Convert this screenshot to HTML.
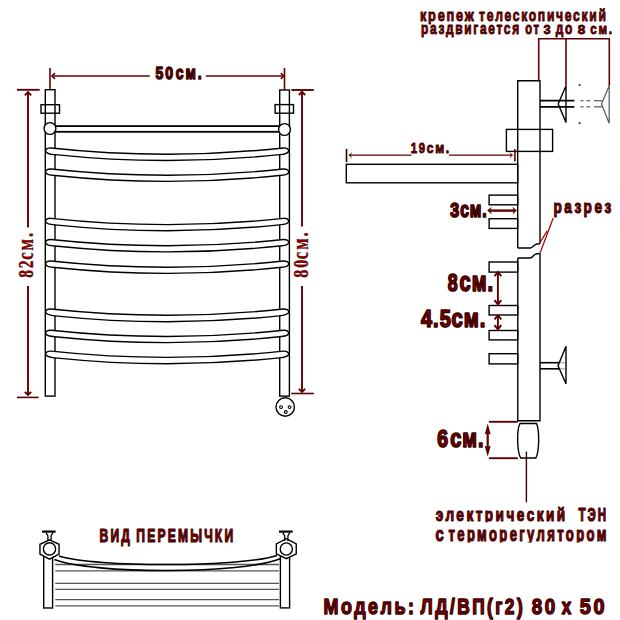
<!DOCTYPE html>
<html><head><meta charset="utf-8"><style>
html,body{margin:0;padding:0;background:#fff;width:620px;height:620px;overflow:hidden}
svg{display:block}
</style></head><body>
<svg width="620" height="620" viewBox="0 0 620 620">
<rect width="620" height="620" fill="#fff"/>
<g fill="none" stroke="#000" stroke-width="1.4">
<rect x="45.3" y="89.7" width="9.7" height="306.4"/>
<rect x="279.7" y="90" width="9.7" height="306.1"/>
<rect x="41" y="104.7" width="18.5" height="8.5"/>
<rect x="275.1" y="104.6" width="18.4" height="8.6"/>
</g>
<rect x="50" y="126.1" width="234.5" height="5.7" fill="#fff" stroke="#000" stroke-width="1.8"/>
<circle cx="50" cy="128.5" r="5.9" fill="#fff" stroke="#000" stroke-width="1.4"/>
<circle cx="284.5" cy="129.5" r="5.9" fill="#fff" stroke="#000" stroke-width="1.4"/>
<path d="M51.00,147.94 Q167.15,160.46 283.30,147.94 C286.30,147.74 288.70,148.84 288.70,150.84 C288.60,152.54 284.80,154.36 279.30,154.66 Q167.15,166.34 55.00,154.66 C49.50,154.36 45.70,152.54 45.60,150.84 C45.60,148.84 48.00,147.74 51.00,147.94 Z" fill="#fff" stroke="#000" stroke-width="1.4"/>
<path d="M51.00,169.04 Q167.15,181.56 283.30,169.04 C286.30,168.84 288.70,169.94 288.70,171.94 C288.60,173.64 284.80,175.26 279.30,175.56 Q167.15,187.24 55.00,175.56 C49.50,175.26 45.70,173.64 45.60,171.94 C45.60,169.94 48.00,168.84 51.00,169.04 Z" fill="#fff" stroke="#000" stroke-width="1.4"/>
<path d="M51.00,218.34 Q167.15,230.86 283.30,218.34 C286.30,218.14 288.70,219.24 288.70,221.24 C288.60,222.94 284.80,224.56 279.30,224.86 Q167.15,236.54 55.00,224.86 C49.50,224.56 45.70,222.94 45.60,221.24 C45.60,219.24 48.00,218.14 51.00,218.34 Z" fill="#fff" stroke="#000" stroke-width="1.4"/>
<path d="M51.00,239.54 Q167.15,252.06 283.30,239.54 C286.30,239.34 288.70,240.44 288.70,242.44 C288.60,244.14 284.80,245.76 279.30,246.06 Q167.15,257.74 55.00,246.06 C49.50,245.76 45.70,244.14 45.60,242.44 C45.60,240.44 48.00,239.34 51.00,239.54 Z" fill="#fff" stroke="#000" stroke-width="1.4"/>
<path d="M51.00,261.04 Q167.15,273.56 283.30,261.04 C286.30,260.84 288.70,261.94 288.70,263.94 C288.60,265.64 284.80,267.26 279.30,267.56 Q167.15,279.24 55.00,267.56 C49.50,267.26 45.70,265.64 45.60,263.94 C45.60,261.94 48.00,260.84 51.00,261.04 Z" fill="#fff" stroke="#000" stroke-width="1.4"/>
<path d="M51.00,309.04 Q167.15,321.56 283.30,309.04 C286.30,308.84 288.70,309.94 288.70,311.94 C288.60,313.64 284.80,315.56 279.30,315.86 Q167.15,327.54 55.00,315.86 C49.50,315.56 45.70,313.64 45.60,311.94 C45.60,309.94 48.00,308.84 51.00,309.04 Z" fill="#fff" stroke="#000" stroke-width="1.4"/>
<path d="M51.00,330.24 Q167.15,342.76 283.30,330.24 C286.30,330.04 288.70,331.14 288.70,333.14 C288.60,334.84 284.80,336.46 279.30,336.76 Q167.15,348.44 55.00,336.76 C49.50,336.46 45.70,334.84 45.60,333.14 C45.60,331.14 48.00,330.04 51.00,330.24 Z" fill="#fff" stroke="#000" stroke-width="1.4"/>
<path d="M51.00,351.14 Q167.15,363.66 283.30,351.14 C286.30,350.94 288.70,352.04 288.70,354.04 C288.60,355.74 284.80,357.56 279.30,357.86 Q167.15,369.54 55.00,357.86 C49.50,357.56 45.70,355.74 45.60,354.04 C45.60,352.04 48.00,350.94 51.00,351.14 Z" fill="#fff" stroke="#000" stroke-width="1.4"/>
<circle cx="285.2" cy="407" r="9.2" fill="#fff" stroke="#000" stroke-width="1.4"/>
<circle cx="281" cy="407.1" r="1.4" fill="none" stroke="#000" stroke-width="1.1"/>
<circle cx="289.6" cy="407.1" r="1.4" fill="none" stroke="#000" stroke-width="1.1"/>
<circle cx="285.8" cy="412" r="1.4" fill="none" stroke="#000" stroke-width="1.1"/>
<g stroke="#600000" stroke-width="1.6" fill="none">
<line x1="50" y1="68" x2="50" y2="89.5"/>
<line x1="284.5" y1="68" x2="284.5" y2="90"/>
<line x1="52" y1="76" x2="149.7" y2="76" stroke-width="1.3"/>
<line x1="205.8" y1="76" x2="283" y2="76" stroke-width="1.3"/>
<line x1="17" y1="89.8" x2="39.7" y2="89.8" stroke-width="1.9"/>
<line x1="17" y1="397.4" x2="38.6" y2="397.4"/>
<line x1="28" y1="92" x2="28" y2="227.4" stroke-width="1.9"/>
<line x1="28" y1="286" x2="28" y2="395" stroke-width="1.9"/>
<line x1="291.4" y1="90" x2="313.8" y2="90" stroke-width="1.9"/>
<line x1="291.3" y1="393.5" x2="313.9" y2="393.5"/>
<line x1="302" y1="91.6" x2="302" y2="226.5" stroke-width="1.9"/>
<line x1="302" y1="286" x2="302" y2="391.6" stroke-width="1.9"/>
</g>
<polyline points="55.0,73.2 52,76 55.0,78.8" fill="none" stroke="#600000" stroke-width="1.6" stroke-linejoin="miter"/>
<polyline points="280.8,73.2 283.8,76 280.8,78.8" fill="none" stroke="#600000" stroke-width="1.6" stroke-linejoin="miter"/>
<polyline points="24.8,95.4 28,92.2 31.2,95.4" fill="none" stroke="#600000" stroke-width="1.9" stroke-linejoin="miter"/>
<polyline points="24.8,391.8 28,395 31.2,391.8" fill="none" stroke="#600000" stroke-width="1.9" stroke-linejoin="miter"/>
<polyline points="298.8,95.0 302,91.8 305.2,95.0" fill="none" stroke="#600000" stroke-width="1.9" stroke-linejoin="miter"/>
<polyline points="298.8,388.8 302,392 305.2,388.8" fill="none" stroke="#600000" stroke-width="1.9" stroke-linejoin="miter"/>
<g fill="none" stroke="#000" stroke-width="1.4">
<rect x="346.3" y="164.3" width="171.4" height="18.5" fill="#fff"/>
<rect x="489.1" y="195.1" width="28.6" height="9.7" fill="#fff"/>
<rect x="489.1" y="218.7" width="28.6" height="9.7" fill="#fff"/>
<rect x="489.1" y="262" width="28.6" height="10.1" fill="#fff"/>
<rect x="489.1" y="305.5" width="28.6" height="9.5" fill="#fff"/>
<rect x="489.1" y="330.5" width="28.6" height="9.4" fill="#fff"/>
<rect x="489.1" y="353.7" width="28.6" height="10.2" fill="#fff"/>
<path d="M517.7,248 L517.7,80.8 L540,80.8 L540,243.8"/>
<path d="M517.7,248 L530,248 C533,248 533.5,244.2 537,244 L540,243.8"/>
<path d="M540,253.6 L540,420.8 L517.8,420.8 L517.8,258"/>
<path d="M517.8,258 L530,258 C533,258 533.5,254 537,253.8 L540,253.6"/>
<rect x="506.4" y="129.4" width="46.2" height="22"/>
<line x1="540" y1="100.7" x2="574.4" y2="100.7" stroke-width="1.8"/>
<line x1="540" y1="106.8" x2="574.4" y2="106.8" stroke-width="1.8"/>
<polyline points="566,85.8 558.2,103.9 566,122.6 566,85.8"/>
<line x1="540" y1="362.7" x2="559" y2="362.7" stroke-width="1.6"/>
<line x1="540" y1="368.8" x2="559" y2="368.8" stroke-width="1.6"/>
<line x1="559" y1="362.7" x2="565.5" y2="362.7" stroke="#999" stroke-width="1"/>
<line x1="559" y1="368.8" x2="565.5" y2="368.8" stroke="#999" stroke-width="1"/>
<polyline points="566,346.3 558,365.7 566,383.7 566,346.3"/>
<path d="M520,423.5 L536.5,423.5 C539.5,430 539.5,451 535.9,458 L520.6,458 C517,451 516.5,430 520,423.5 Z"/>
</g>
<g stroke="#555" stroke-width="1.2" fill="none">
<polyline points="609.2,85.8 601.5,103.9 609.2,123.2 609.2,85.8"/>
<line x1="580.5" y1="100.7" x2="583.5" y2="100.7"/><line x1="586.5" y1="100.7" x2="590" y2="100.7"/><line x1="594" y1="100.7" x2="602" y2="100.7"/>
<line x1="580.5" y1="106.8" x2="583.5" y2="106.8"/><line x1="586.5" y1="106.8" x2="590" y2="106.8"/><line x1="594" y1="106.8" x2="602" y2="106.8"/>
</g>
<rect x="578.8" y="84.2" width="1.6" height="1.6" fill="#000"/><rect x="578.8" y="122.4" width="1.6" height="1.6" fill="#000"/>
<g stroke="#600000" stroke-width="1.6" fill="none">
<polyline points="538.7,80.7 538.7,38.7 609.3,38.7 609.3,85.8"/>
<line x1="566" y1="38.7" x2="566" y2="85.8"/>
<line x1="346.5" y1="148.9" x2="346.5" y2="162.2" stroke="#200"/>
<line x1="514.9" y1="149" x2="514.9" y2="161.5"/>
<line x1="349" y1="155.2" x2="411.5" y2="155.2" stroke-width="1.3"/>
<line x1="449" y1="155.2" x2="512.6" y2="155.2" stroke-width="1.3"/>
<line x1="489" y1="210.6" x2="515" y2="210.6" stroke-width="2.4"/>
<line x1="497.9" y1="273" x2="497.9" y2="303" stroke-width="1.9"/>
<line x1="497.9" y1="316" x2="497.9" y2="328" stroke-width="1.9"/>
<line x1="488.9" y1="421.8" x2="517.8" y2="421.8" stroke-width="1.9"/>
<line x1="488.9" y1="458.2" x2="517.8" y2="458.2" stroke-width="1.9"/>
<line x1="487.7" y1="430" x2="487.7" y2="450" stroke-width="2.2"/>
<line x1="553.2" y1="218" x2="539.9" y2="253.5" stroke="#a00000" stroke-width="1.2"/>
<line x1="547.2" y1="230.9" x2="539.9" y2="242.8" stroke="#a00000" stroke-width="1.2"/>
<line x1="526.4" y1="451.5" x2="526.4" y2="502.3" stroke="#3a0000" stroke-width="1.4"/>
</g>
<polygon points="349,155.2 352,152.0 350.8,155.2 352,158.39999999999998" fill="#600000"/>
<polygon points="512.6,155.2 509.6,152.0 510.8,155.2 509.6,158.39999999999998" fill="#600000"/>
<polygon points="487.2,210.6 491.7,206.79999999999998 490.2,210.6 491.7,214.4" fill="#600000"/>
<polygon points="516.9,210.6 512.4,206.79999999999998 513.9,210.6 512.4,214.4" fill="#600000"/>
<polyline points="494.5,276.2 497.9,272 501.29999999999995,276.2" fill="none" stroke="#600000" stroke-width="1.9" stroke-linejoin="miter"/>
<polyline points="494.5,300.2 497.9,304.4 501.29999999999995,300.2" fill="none" stroke="#600000" stroke-width="1.9" stroke-linejoin="miter"/>
<polyline points="494.5,319.4 497.9,315.2 501.29999999999995,319.4" fill="none" stroke="#600000" stroke-width="1.9" stroke-linejoin="miter"/>
<polyline points="494.5,325.2 497.9,329.4 501.29999999999995,325.2" fill="none" stroke="#600000" stroke-width="1.9" stroke-linejoin="miter"/>
<polygon points="487.7,423.4 484.7,434.59999999999997 487.7,433.59999999999997 490.7,434.59999999999997" fill="#600000"/>
<polygon points="487.7,456.7 484.7,445.7 487.7,446.7 490.7,445.7" fill="#600000"/>
<g stroke="#555" stroke-width="1.3">
<line x1="55.3" y1="564.5" x2="279" y2="564.5"/>
<line x1="55.3" y1="570.9" x2="279" y2="570.9"/>
<line x1="55.3" y1="583.4" x2="279" y2="583.4"/>
<line x1="55.3" y1="589.4" x2="279" y2="589.4"/>
<line x1="55.3" y1="599.6" x2="279" y2="599.6"/>
<line x1="55.3" y1="605.8" x2="279" y2="605.8"/>
</g>
<g fill="#fff" stroke="#000" stroke-width="1.4">
<rect x="43.7" y="556" width="8.9" height="52"/>
<rect x="280.4" y="556" width="9.2" height="51.9"/>
<path d="M58.9,556 C95,567.5 240,567.5 277,555.4" fill="none" stroke-width="1.6" />
<path d="M54.4,559.6 C92,574.3 243,574.3 281,558.6" fill="none" stroke-width="1.6" />
<polygon points="49.5,539.8 59.05,544.3 59.05,554.0 49.5,559.2 39.95,554.0 39.95,544.3"/>
<circle cx="49.5" cy="548.9" r="6.1"/>
<path d="M42.1,531.6 L55.6,531.6" stroke-width="2.2"/>
<path d="M46.0,532.5 L47.9,536 L47.9,541 M53.0,532.5 L51.1,536 L51.1,541" fill="none" stroke-width="1.3"/>
<polygon points="286.3,538.7 296.25,543.9 296.25,553.8 286.3,558.6 276.35,553.8 276.35,543.9"/>
<circle cx="286.3" cy="549" r="6.1"/>
<path d="M279,531.6 L292.7,531.6" stroke-width="2.2"/>
<path d="M282.8,532.5 L284.7,536 L284.7,541 M289.8,532.5 L287.90000000000003,536 L287.90000000000003,541" fill="none" stroke-width="1.3"/>
</g>
<text transform="translate(155.43,78.80) scale(0.8093,1)" font-size="17.36" letter-spacing="2.430" font-family="Liberation Sans, sans-serif" font-weight="bold" fill="#860000" stroke="#3a0000" stroke-width="1.3" vector-effect="non-scaling-stroke" stroke-linejoin="round">50</text>
<text transform="translate(175.69,78.80) scale(0.7834,1)" font-size="17.87" letter-spacing="2.502" font-family="Liberation Sans, sans-serif" font-weight="bold" fill="#860000" stroke="#3a0000" stroke-width="1.3" vector-effect="non-scaling-stroke" stroke-linejoin="round">см.</text>
<text transform="translate(410.72,153.20) scale(0.7664,1)" font-size="14.86" letter-spacing="2.080" font-family="Liberation Sans, sans-serif" font-weight="bold" fill="#860000" stroke="#3a0000" stroke-width="0.8" vector-effect="non-scaling-stroke" stroke-linejoin="round">19</text>
<text transform="translate(426.71,153.20) scale(0.8300,1)" font-size="14.63" letter-spacing="2.048" font-family="Liberation Sans, sans-serif" font-weight="bold" fill="#860000" stroke="#3a0000" stroke-width="0.8" vector-effect="non-scaling-stroke" stroke-linejoin="round">см.</text>
<text transform="translate(450.15,216.70) scale(0.7982,1)" font-size="20.07" letter-spacing="1.004" font-family="Liberation Sans, sans-serif" font-weight="bold" fill="#860000" stroke="#3a0000" stroke-width="1.5" vector-effect="non-scaling-stroke" stroke-linejoin="round">3</text>
<text transform="translate(460.32,216.70) scale(0.7406,1)" font-size="21.20" letter-spacing="1.060" font-family="Liberation Sans, sans-serif" font-weight="bold" fill="#860000" stroke="#3a0000" stroke-width="1.5" vector-effect="non-scaling-stroke" stroke-linejoin="round">см.</text>
<text transform="translate(447.82,290.50) scale(0.7526,1)" font-size="23.64" letter-spacing="1.182" font-family="Liberation Sans, sans-serif" font-weight="bold" fill="#860000" stroke="#3a0000" stroke-width="1.5" vector-effect="non-scaling-stroke" stroke-linejoin="round">8</text>
<text transform="translate(459.55,290.50) scale(0.7504,1)" font-size="26.76" letter-spacing="1.338" font-family="Liberation Sans, sans-serif" font-weight="bold" fill="#860000" stroke="#3a0000" stroke-width="1.5" vector-effect="non-scaling-stroke" stroke-linejoin="round">см.</text>
<text transform="translate(421.05,326.50) scale(0.8562,1)" font-size="23.26" letter-spacing="1.163" font-family="Liberation Sans, sans-serif" font-weight="bold" fill="#860000" stroke="#3a0000" stroke-width="1.5" vector-effect="non-scaling-stroke" stroke-linejoin="round">4.5</text>
<text transform="translate(451.54,326.50) scale(0.8032,1)" font-size="25.28" letter-spacing="1.264" font-family="Liberation Sans, sans-serif" font-weight="bold" fill="#860000" stroke="#3a0000" stroke-width="1.5" vector-effect="non-scaling-stroke" stroke-linejoin="round">см.</text>
<text transform="translate(437.27,447.40) scale(0.8063,1)" font-size="24.07" letter-spacing="1.204" font-family="Liberation Sans, sans-serif" font-weight="bold" fill="#860000" stroke="#3a0000" stroke-width="1.5" vector-effect="non-scaling-stroke" stroke-linejoin="round">6</text>
<text transform="translate(450.15,447.40) scale(0.7731,1)" font-size="25.83" letter-spacing="1.292" font-family="Liberation Sans, sans-serif" font-weight="bold" fill="#860000" stroke="#3a0000" stroke-width="1.5" vector-effect="non-scaling-stroke" stroke-linejoin="round">см.</text>
<text transform="translate(553.41,212.90) scale(0.7149,1)" font-size="19.07" letter-spacing="3.433" font-family="Liberation Sans, sans-serif" font-weight="bold" fill="#860000" stroke="#3a0000" stroke-width="1.0" vector-effect="non-scaling-stroke" stroke-linejoin="round">разрез</text>
<text transform="translate(419.91,20.60) scale(0.7658,1)" font-size="16.67" letter-spacing="2.333" font-family="Liberation Sans, sans-serif" font-weight="bold" fill="#860000" stroke="#3a0000" stroke-width="0.8" vector-effect="non-scaling-stroke" stroke-linejoin="round">крепеж</text>
<text transform="translate(479.04,20.60) scale(0.7131,1)" font-size="17.04" letter-spacing="2.385" font-family="Liberation Sans, sans-serif" font-weight="bold" fill="#860000" stroke="#3a0000" stroke-width="0.8" vector-effect="non-scaling-stroke" stroke-linejoin="round">телескопический</text>
<text transform="translate(421.02,34.00) scale(0.7339,1)" font-size="16.30" letter-spacing="2.281" font-family="Liberation Sans, sans-serif" font-weight="bold" fill="#860000" stroke="#3a0000" stroke-width="0.8" vector-effect="non-scaling-stroke" stroke-linejoin="round">раздвигается</text>
<text transform="translate(525.35,34.00) scale(0.6975,1)" font-size="16.11" letter-spacing="2.256" font-family="Liberation Sans, sans-serif" font-weight="bold" fill="#860000" stroke="#3a0000" stroke-width="0.8" vector-effect="non-scaling-stroke" stroke-linejoin="round">от</text>
<text transform="translate(543.48,34.00) scale(0.9345,1)" font-size="13.71" letter-spacing="1.920" font-family="Liberation Sans, sans-serif" font-weight="bold" fill="#860000" stroke="#3a0000" stroke-width="0.8" vector-effect="non-scaling-stroke" stroke-linejoin="round">3</text>
<text transform="translate(555.74,34.00) scale(0.7389,1)" font-size="16.11" letter-spacing="2.256" font-family="Liberation Sans, sans-serif" font-weight="bold" fill="#860000" stroke="#3a0000" stroke-width="0.8" vector-effect="non-scaling-stroke" stroke-linejoin="round">до</text>
<text transform="translate(577.79,34.00) scale(1.0081,1)" font-size="13.43" letter-spacing="1.880" font-family="Liberation Sans, sans-serif" font-weight="bold" fill="#860000" stroke="#3a0000" stroke-width="0.8" vector-effect="non-scaling-stroke" stroke-linejoin="round">8</text>
<text transform="translate(590.33,34.00) scale(0.7486,1)" font-size="15.56" letter-spacing="2.178" font-family="Liberation Sans, sans-serif" font-weight="bold" fill="#860000" stroke="#3a0000" stroke-width="0.8" vector-effect="non-scaling-stroke" stroke-linejoin="round">см.</text>
<text transform="translate(435.76,520.60) scale(0.7093,1)" font-size="19.25" letter-spacing="3.464" font-family="Liberation Sans, sans-serif" font-weight="bold" fill="#860000" stroke="#3a0000" stroke-width="1.0" vector-effect="non-scaling-stroke" stroke-linejoin="round">электрический</text>
<text transform="translate(578.38,520.60) scale(0.6226,1)" font-size="18.57" letter-spacing="3.343" font-family="Liberation Sans, sans-serif" font-weight="bold" fill="#860000" stroke="#3a0000" stroke-width="1.0" vector-effect="non-scaling-stroke" stroke-linejoin="round">ТЭН</text>
<text transform="translate(435.51,541.00) scale(0.7379,1)" font-size="20.00" letter-spacing="3.600" font-family="Liberation Sans, sans-serif" font-weight="bold" fill="#860000" stroke="#3a0000" stroke-width="1.0" vector-effect="non-scaling-stroke" stroke-linejoin="round">с</text>
<text transform="translate(448.51,541.00) scale(0.6548,1)" font-size="20.00" letter-spacing="3.600" font-family="Liberation Sans, sans-serif" font-weight="bold" fill="#860000" stroke="#3a0000" stroke-width="1.0" vector-effect="non-scaling-stroke" stroke-linejoin="round">терморегулятором</text>
<text transform="translate(99.52,541.50) scale(0.6561,1)" font-size="18.41" letter-spacing="3.313" font-family="Liberation Sans, sans-serif" font-weight="bold" fill="#860000" stroke="#3a0000" stroke-width="1.0" vector-effect="non-scaling-stroke" stroke-linejoin="round">ВИД</text>
<text transform="translate(136.31,541.50) scale(0.6575,1)" font-size="18.41" letter-spacing="3.313" font-family="Liberation Sans, sans-serif" font-weight="bold" fill="#860000" stroke="#3a0000" stroke-width="1.0" vector-effect="non-scaling-stroke" stroke-linejoin="round">ПЕРЕМЫЧКИ</text>
<text transform="translate(323.48,614.00) scale(0.7910,1)" font-size="22.68" letter-spacing="3.175" font-family="Liberation Sans, sans-serif" font-weight="bold" fill="#860000" stroke="#3a0000" stroke-width="1.3" vector-effect="non-scaling-stroke" stroke-linejoin="round">Модель:</text>
<text transform="translate(420.56,614.00) scale(0.7748,1)" font-size="22.39" letter-spacing="3.135" font-family="Liberation Sans, sans-serif" font-weight="bold" fill="#860000" stroke="#3a0000" stroke-width="1.3" vector-effect="non-scaling-stroke" stroke-linejoin="round">ЛД/ВП(г2)</text>
<text transform="translate(531.68,614.20) scale(0.8384,1)" font-size="22.50" letter-spacing="3.150" font-family="Liberation Sans, sans-serif" font-weight="bold" fill="#860000" stroke="#3a0000" stroke-width="1.3" vector-effect="non-scaling-stroke" stroke-linejoin="round">80</text>
<text transform="translate(561.68,614.00) scale(0.7442,1)" font-size="22.74" letter-spacing="3.183" font-family="Liberation Sans, sans-serif" font-weight="bold" fill="#860000" stroke="#3a0000" stroke-width="1.3" vector-effect="non-scaling-stroke" stroke-linejoin="round">х</text>
<text transform="translate(579.65,614.20) scale(0.8856,1)" font-size="22.50" letter-spacing="3.150" font-family="Liberation Sans, sans-serif" font-weight="bold" fill="#860000" stroke="#3a0000" stroke-width="1.3" vector-effect="non-scaling-stroke" stroke-linejoin="round">50</text>
<g transform="translate(33.2,0) rotate(-90)"><text transform="translate(-277.79,0.00) scale(0.7663,1)" font-size="20.23" letter-spacing="2.427" font-family="Liberation Serif, serif" font-weight="bold" fill="#860000" stroke="#3a0000" stroke-width="0.3" vector-effect="non-scaling-stroke" stroke-linejoin="round">82</text></g>
<g transform="translate(33.2,0) rotate(-90)"><text transform="translate(-259.84,0.00) scale(0.7113,1)" font-size="23.51" letter-spacing="2.821" font-family="Liberation Serif, serif" font-weight="bold" fill="#860000" stroke="#3a0000" stroke-width="0.3" vector-effect="non-scaling-stroke" stroke-linejoin="round">см.</text></g>
<g transform="translate(308.3,0) rotate(-90)"><text transform="translate(-277.81,0.00) scale(0.8018,1)" font-size="20.08" letter-spacing="2.409" font-family="Liberation Serif, serif" font-weight="bold" fill="#860000" stroke="#3a0000" stroke-width="0.3" vector-effect="non-scaling-stroke" stroke-linejoin="round">80</text></g>
<g transform="translate(308.3,0) rotate(-90)"><text transform="translate(-259.23,0.00) scale(0.7028,1)" font-size="23.72" letter-spacing="2.847" font-family="Liberation Serif, serif" font-weight="bold" fill="#860000" stroke="#3a0000" stroke-width="0.3" vector-effect="non-scaling-stroke" stroke-linejoin="round">см.</text></g>
<rect x="430" y="522.3" width="180" height="6" fill="#fff"/>
<rect x="430" y="542.6" width="180" height="6" fill="#fff"/>
</svg>
</body></html>
